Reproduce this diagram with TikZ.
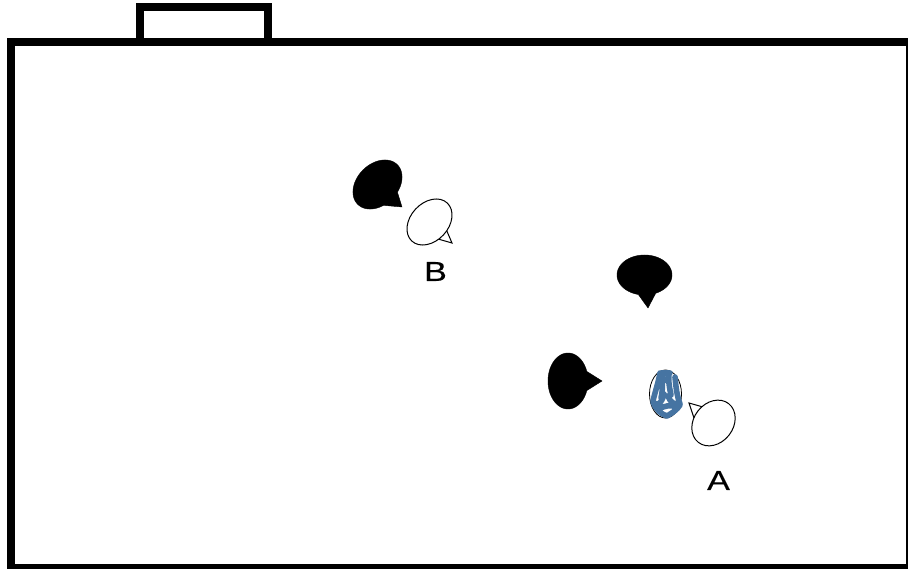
\documentclass[tikz,border=0pt]{standalone}
\usepackage{fontspec}
\setmainfont{Liberation Sans}
\newfontfamily\labelfont[RawFeature={embolden=0.3}]{Liberation Sans}
\definecolor{scribble}{HTML}{4674A2}
\tikzset{
  frameline/.style={draw=black,line width=8pt,line cap=butt,line join=miter},
  blackbubble/.style={fill=black,draw=black,line width=0.4pt},
  whitebubble/.style={fill=white,draw=black,line width=1pt,line join=miter},
  lettertext/.style={font=\labelfont\fontsize{27.5}{27.5}\selectfont,xscale=1.24,inner sep=0pt},
  scribbleline/.style={draw=scribble,line width=5.6pt,line cap=round,line join=round}
}
% centre x, centre y, x radius, y radius, rotation, start, end, tip name, style
\newcommand{\speechbubble}[9]{%
  \begin{scope}[shift={(#1,#2)},rotate=#5]
    \path[#9] plot[domain=#6:#7,samples=90] ({#3*cos(\x)},{#4*sin(\x)}) -- (#8) -- cycle;
  \end{scope}}
\begin{document}
\begin{tikzpicture}[x=1pt,y=-1pt]
\useasboundingbox (0,0) rectangle (908,569);
\fill[white] (0,0) rectangle (908,569);
\clip (0,0) rectangle (908,569);
\draw[frameline] (140,42) -- (140,7) -- (268,7) -- (268,42);
\draw[frameline] (11,42) rectangle (910,568);
\coordinate (tipOne) at (402,207);
\coordinate (baseTwoA) at (446,229);
\coordinate (tipTwo) at (452,243);
\coordinate (baseTwoB) at (438,239);
\coordinate (tipThree) at (648,308);
\coordinate (tipFour) at (602,381);
\coordinate (baseFiveA) at (703,407);
\coordinate (tipFive) at (689,403);
\coordinate (baseFiveB) at (694,418);
\speechbubble{377.5}{184.5}{28}{20.5}{45}{112}{432}{tipOne}{blackbubble}
\speechbubble{644.5}{275}{27.5}{20}{0}{103}{426}{tipThree}{blackbubble}
\speechbubble{568}{381}{20}{28}{0}{20}{340}{tipFour}{blackbubble}
\draw[whitebubble] (baseTwoA) -- (tipTwo) -- (baseTwoB);
\draw[whitebubble,rotate around={47:(429.5,222)}] (429.5,222) ellipse [x radius=26,y radius=19];
\draw[whitebubble] (baseFiveA) -- (tipFive) -- (baseFiveB);
\draw[whitebubble,rotate around={52:(713.5,423)}] (713.5,423) ellipse [x radius=24.6,y radius=19.7];
% scribbled head
\draw[black,line width=0.8pt] (665.5,394) ellipse [x radius=16,y radius=24];
\draw[scribbleline]
  (661,373) -- (670,373)
  (660,373) .. controls (658,384) and (655,392) .. (653,401)
  (663,373) .. controls (662,382) and (663,390) .. (661,398)
  (669,373) .. controls (668,382) and (670,390) .. (671,395)
  (675,377) .. controls (676,388) and (677,396) .. (680,404)
  (662,380) -- (668,380)
  (653,402) .. controls (656,410) and (661,414) .. (667,416)
  (680,405) .. controls (677,410) and (672,413) .. (667,416)
  (653,402) .. controls (657,407) and (662,403) .. (664,394)
  (680,404) .. controls (674,405) and (670,402) .. (668,396)
  (658,410) .. controls (664,405) and (671,405) .. (677,407);
% letters
\node[lettertext] (labelB) at (435.5,271.5) {B};
\node[lettertext] (labelA) at (718.5,480.5) {A};
\end{tikzpicture}
\end{document}
